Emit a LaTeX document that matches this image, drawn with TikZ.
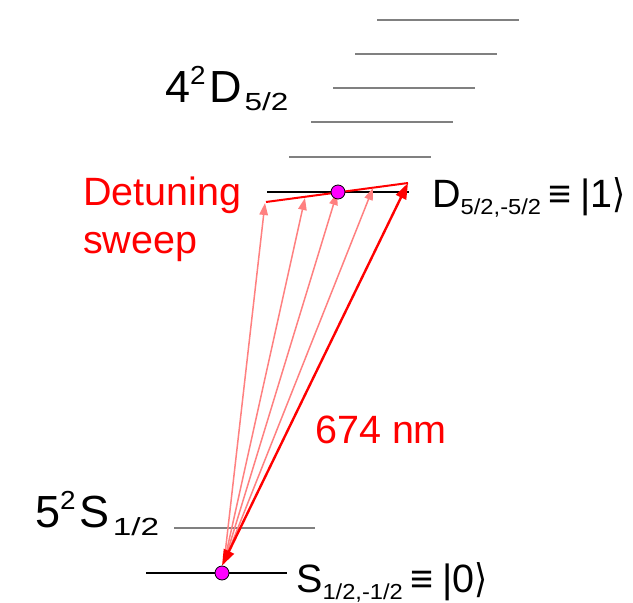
\documentclass[tikz,border=0pt]{standalone}
\usepackage{fontspec}
\setmainfont{Liberation Sans}
\newfontfamily\symfont{DejaVu Sans}
\usetikzlibrary{arrows.meta}
\definecolor{laser}{RGB}{255,0,0}
\definecolor{laserlight}{RGB}{255,128,128}
\definecolor{ion}{RGB}{255,0,255}
\definecolor{sublevel}{RGB}{128,128,128}
\newcommand{\lo}[2][0.6]{\raisebox{-0.18em}{\scalebox{#1}[0.55]{#2}}}
\newcommand{\hi}[1]{\raisebox{0.4em}{\scalebox{0.62}[0.58]{#1}}\kern0.08em}
\newcommand{\ketr}{\scalebox{0.85}[1]{\symfont\char"27E9}}
\newcommand{\eqv}{\hspace{0.2em}≡\hspace{0.22em}}

\begin{document}
\begin{tikzpicture}[x=1pt,y=-1pt,
    level/.style={line width=2pt,black},
    zeeman/.style={line width=2pt,sublevel},
    dot/.style={circle,draw=black,fill=ion,line width=0.8pt,minimum size=14pt,inner sep=0pt},
    lbl/.style={anchor=base west,inner sep=0pt},
    big/.style={font=\fontsize{45}{48}\selectfont},
    mid/.style={font=\fontsize{39.5}{48}\selectfont},
    probe/.style={line width=1.5pt,laserlight,-{Triangle[length=12pt,width=8.5pt]}},
    clock/.style={line width=2.4pt,laser,{Triangle[length=16pt,width=11pt]}-{Triangle[length=16pt,width=11pt]}}]
  \useasboundingbox (0,0) rectangle (633,603);
  % D5/2 manifold
  \foreach \y/\xa in {20/377,54/355,88/333,122/311,157/289}
    \draw[zeeman] (\xa,\y) -- ++(142,0);
  \draw[level] (267,192) -- (409,192);
  % S1/2 manifold
  \draw[zeeman] (174,528) -- (315,528);
  \draw[level] (146,573) -- (287,573);
  % sweep
  \coordinate (sw1) at (266,202);
  \coordinate (sw2) at (408,183);
  \draw[laser,line width=2pt] (sw1) -- (sw2);
  \node[dot] (g) at (222,573) {};
  \coordinate (src) at (224,563);
  \foreach \x/\y [count=\i] in {265/203,305/198,337/193,373/188}
    \coordinate (t\i) at (\x,\y);
  \foreach \i in {1,...,4}
    \draw[probe] (src) -- (t\i);
  \draw[clock] (g.north) -- (sw2);
  \node[dot] (e) at (338,192) {};
  % labels
  \node[lbl,big] (dlev) at (165,102) {4\hi{2}D\kern0.06em\lo[0.7]{5/2}};
  \node[lbl,big] (slev) at (35,527) {5\hi{2}S\kern0.08em\lo[0.74]{1/2}};
  \node[lbl,mid] (dket) at (432,207) {D\lo{5/2,-5/2}\eqv|1\ketr};
  \node[lbl,mid] (sket) at (296,592) {S\lo{1/2,-1/2}\eqv|0\ketr};
  \node[lbl,mid,laser,align=left] (swp) at (83,253) {Detuning\\sweep};
  \node[lbl,mid,laser] (wl) at (315,443) {674 nm};
\end{tikzpicture}
\end{document}
